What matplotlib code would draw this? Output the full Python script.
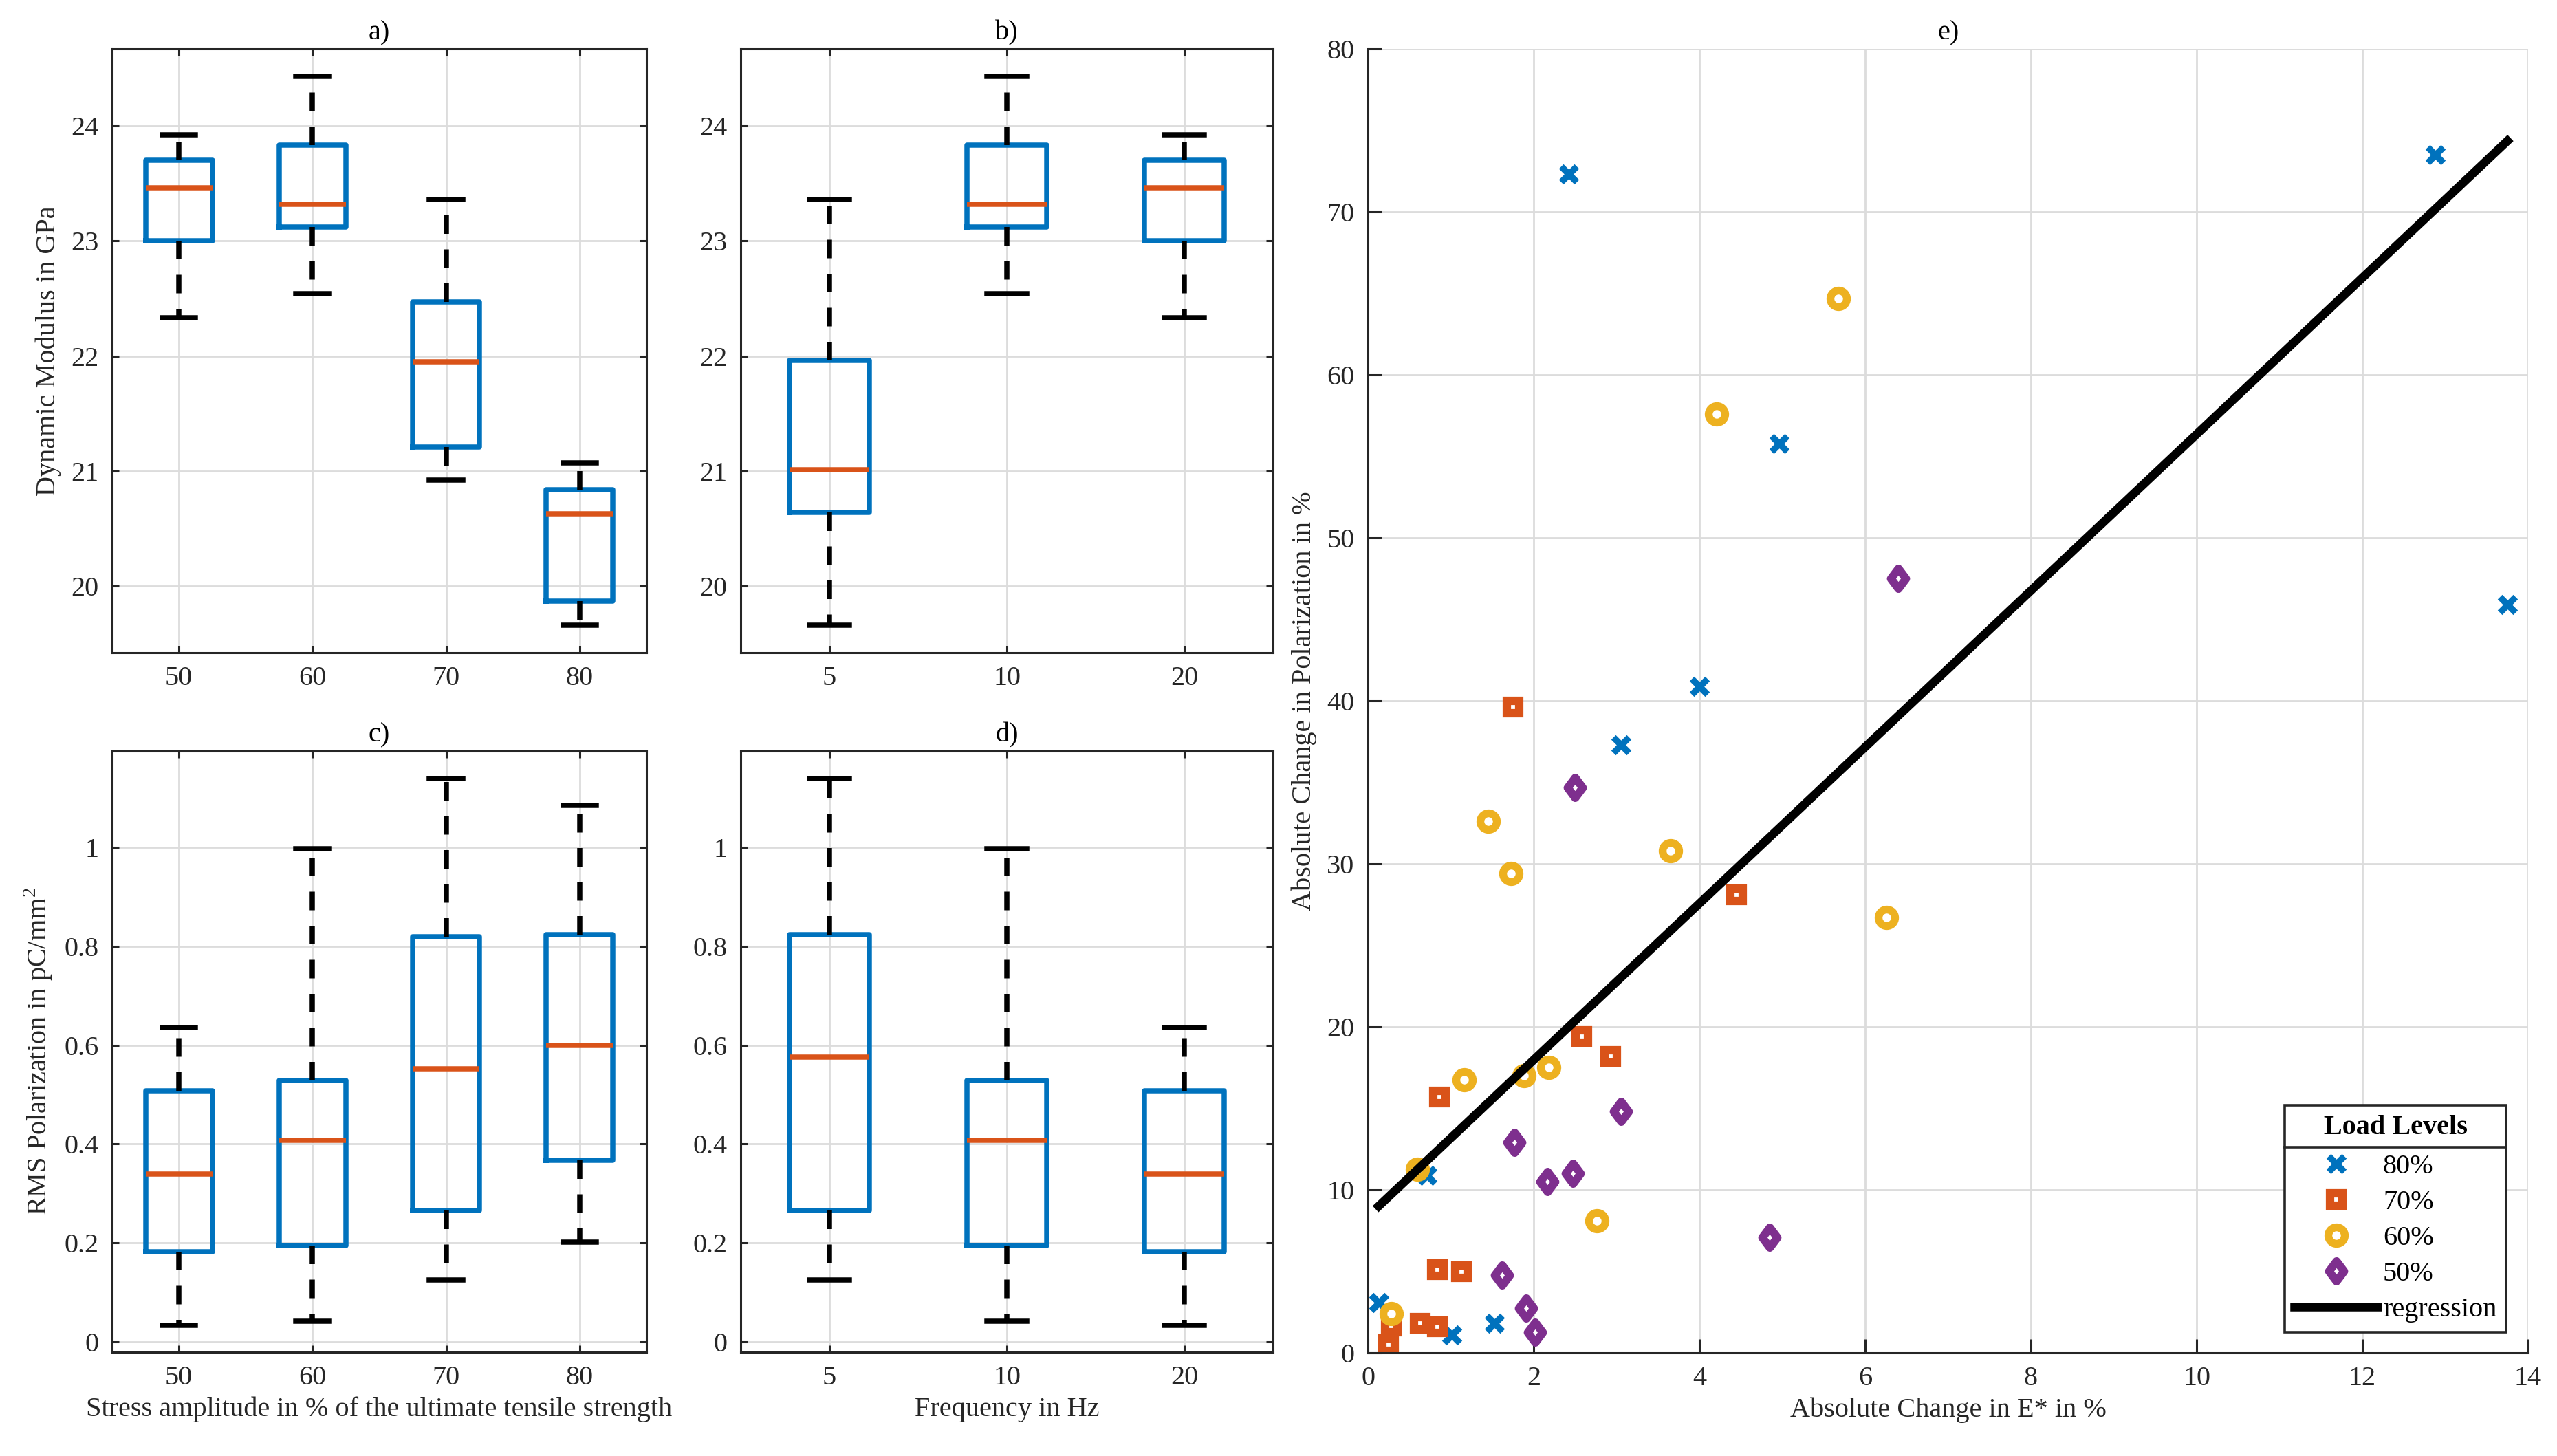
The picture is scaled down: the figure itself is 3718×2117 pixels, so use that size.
import matplotlib
matplotlib.use("Agg")
import matplotlib.pyplot as plt
from matplotlib.lines import Line2D
from matplotlib.markers import MarkerStyle
from matplotlib.path import Path

plt.rcParams["font.family"] = ["Liberation Serif", "DejaVu Serif"]
plt.rcParams["mathtext.fontset"] = "custom"
plt.rcParams["mathtext.rm"] = "Liberation Serif"

# --- box plot data (whisker low, q1, median, q3, whisker high) ---
stress_labels = ["50", "60", "70", "80"]
freq_labels = ["5", "10", "20"]

mod_stress_lo = [22.33, 22.54, 20.92, 19.66]
mod_stress_q1 = [23.00, 23.12, 21.21, 19.87]
mod_stress_med = [23.46, 23.32, 21.95, 20.63]
mod_stress_q3 = [23.70, 23.83, 22.47, 20.84]
mod_stress_hi = [23.92, 24.43, 23.36, 21.07]

mod_freq_lo = [19.66, 22.54, 22.33]
mod_freq_q1 = [20.64, 23.12, 23.00]
mod_freq_med = [21.01, 23.32, 23.46]
mod_freq_q3 = [21.96, 23.83, 23.70]
mod_freq_hi = [23.36, 24.43, 23.92]

pol_stress_lo = [0.033, 0.041, 0.125, 0.201]
pol_stress_q1 = [0.182, 0.194, 0.265, 0.367]
pol_stress_med = [0.340, 0.408, 0.552, 0.600]
pol_stress_q3 = [0.508, 0.528, 0.820, 0.824]
pol_stress_hi = [0.636, 0.997, 1.139, 1.085]

pol_freq_lo = [0.125, 0.041, 0.033]
pol_freq_q1 = [0.265, 0.194, 0.182]
pol_freq_med = [0.576, 0.408, 0.340]
pol_freq_q3 = [0.824, 0.528, 0.508]
pol_freq_hi = [1.139, 0.997, 0.636]

mod_ticks = [20, 21, 22, 23, 24]
pol_ticks = [0, 0.2, 0.4, 0.6, 0.8, 1.0]
pol_tick_labels = ["0", "0.2", "0.4", "0.6", "0.8", "1"]

# --- scatter data (absolute change in E*, absolute change in polarization) ---
x80 = [2.42, 12.88, 13.75, 4.96, 4.00, 3.05, 0.13, 1.01, 1.53, 0.71]
y80 = [72.3, 73.5, 45.9, 55.8, 40.9, 37.3, 3.1, 1.1, 1.8, 10.9]
x70 = [1.75, 4.45, 2.58, 2.93, 0.86, 0.84, 1.13, 0.63, 0.84, 0.285, 0.25]
y70 = [39.6, 28.1, 19.4, 18.2, 15.7, 5.1, 5.0, 1.8, 1.6, 1.65, 0.5]
x60 = [5.68, 4.21, 1.45, 1.73, 3.65, 6.26, 1.16, 1.88, 2.18, 0.60, 2.76, 0.28]
y60 = [64.7, 57.6, 32.6, 29.4, 30.8, 26.7, 16.75, 17.0, 17.5, 11.25, 8.1, 2.4]
x50 = [6.40, 2.50, 1.77, 3.05, 2.17, 2.47, 4.85, 1.62, 1.91, 2.02]
y50 = [47.5, 34.7, 12.9, 14.8, 10.5, 11.0, 7.1, 4.75, 2.75, 1.25]
reg_x = [0.13, 13.75]
reg_y = [9.0, 74.35]

BLUE = "#0072BD"
ORANGE = "#D95319"
YELLOW = "#EDB120"
PURPLE = "#7E2F8E"
AX_COL = "#262626"
GRID_COL = "#dcdcdc"
FS = 14.5

W, H = 3718, 2117


def rect(left, right, top, bottom):
    return [left / W, 1 - bottom / H, (right - left) / W, (bottom - top) / H]


def make_stats(lo, q1, med, q3, hi):
    return [dict(whislo=a, q1=b, med=c, q3=d, whishi=e)
            for a, b, c, d, e in zip(lo, q1, med, q3, hi)]


def box_panel(ax, stats, width, xlabels, ylim, yticks, yticklabels=None):
    lw = 2.7
    ax.bxp(stats, positions=range(1, len(stats) + 1), widths=width,
           capwidths=width / 2, showfliers=False,
           boxprops=dict(color=BLUE, linewidth=lw),
           medianprops=dict(color=ORANGE, linewidth=lw),
           whiskerprops=dict(color="black", linewidth=lw, linestyle=(0, (3.6, 3.0))),
           capprops=dict(color="black", linewidth=lw))
    ax.set_xlim(0.5, len(stats) + 0.5)
    ax.set_xticks(range(1, len(stats) + 1))
    ax.set_xticklabels(xlabels)
    ax.set_ylim(*ylim)
    ax.set_yticks(yticks)
    if yticklabels is not None:
        ax.set_yticklabels(yticklabels)
    ax.set_axisbelow(True)
    ax.grid(True, color=GRID_COL, linewidth=1.0)
    ax.tick_params(direction="in", top=True, right=True, length=3.6, width=1.1,
                   labelsize=FS, colors=AX_COL, pad=7)
    for sp in ax.spines.values():
        sp.set_color(AX_COL)
        sp.set_linewidth(1.1)


fig = plt.figure(figsize=(W / 200, H / 200), dpi=200)

ax_a = fig.add_axes(rect(163, 940, 71, 949))
ax_b = fig.add_axes(rect(1077, 1851, 71, 949))
ax_c = fig.add_axes(rect(163, 940, 1092, 1966))
ax_d = fig.add_axes(rect(1077, 1851, 1092, 1966))
ax_e = fig.add_axes(rect(1989, 3676, 71, 1967))

mod_lim = (19.42, 24.67)
pol_lim = (-0.021, 1.195)

box_panel(ax_a, make_stats(mod_stress_lo, mod_stress_q1, mod_stress_med, mod_stress_q3, mod_stress_hi),
          0.5, stress_labels, mod_lim, mod_ticks)
box_panel(ax_b, make_stats(mod_freq_lo, mod_freq_q1, mod_freq_med, mod_freq_q3, mod_freq_hi),
          0.45, freq_labels, mod_lim, mod_ticks)
box_panel(ax_c, make_stats(pol_stress_lo, pol_stress_q1, pol_stress_med, pol_stress_q3, pol_stress_hi),
          0.5, stress_labels, pol_lim, pol_ticks, pol_tick_labels)
box_panel(ax_d, make_stats(pol_freq_lo, pol_freq_q1, pol_freq_med, pol_freq_q3, pol_freq_hi),
          0.45, freq_labels, pol_lim, pol_ticks, pol_tick_labels)

for ax, t in zip([ax_a, ax_b, ax_c, ax_d, ax_e], ["a)", "b)", "c)", "d)", "e)"]):
    ax.set_title(t, fontsize=FS, pad=5, color="black")

ax_a.set_ylabel("Dynamic Modulus in GPa", fontsize=FS, color=AX_COL, labelpad=5)
ax_c.set_ylabel("RMS Polarization in pC/mm$^{\\mathrm{2}}$", fontsize=FS, color=AX_COL, labelpad=5)
ax_c.set_xlabel("Stress amplitude in % of the ultimate tensile strength", fontsize=FS,
                color=AX_COL, labelpad=3)
ax_d.set_xlabel("Frequency in Hz", fontsize=FS, color=AX_COL, labelpad=3)

# --- scatter panel ---
diamond = MarkerStyle(Path([(0, 1), (0.75, 0), (0, -1), (-0.75, 0), (0, 1)], closed=True),
                      joinstyle="miter")
cross = MarkerStyle("x", capstyle="projecting")

h80, = ax_e.plot(x80, y80, linestyle="none", marker=cross, ms=5.5, mew=3.4, mec=BLUE)
h70, = ax_e.plot(x70, y70, linestyle="none", marker="s", ms=6.2, mew=4.4, mec=ORANGE, mfc="white")
h60, = ax_e.plot(x60, y60, linestyle="none", marker="o", ms=8.6, mew=4.1, mec=YELLOW, mfc="white")
h50, = ax_e.plot(x50, y50, linestyle="none", marker=diamond, ms=10.5, mew=4.3, mec=PURPLE, mfc="white")
hreg, = ax_e.plot(reg_x, reg_y, color="black", linewidth=4.5)

ax_e.set_xlim(0, 14)
ax_e.set_ylim(0, 80)
ax_e.set_xticks(range(0, 15, 2))
ax_e.set_yticks(range(0, 81, 10))
ax_e.set_axisbelow(True)
ax_e.grid(True, color=GRID_COL, linewidth=1.0)
ax_e.spines["top"].set_visible(False)
ax_e.spines["right"].set_visible(False)
for side in ["left", "bottom"]:
    ax_e.spines[side].set_color(AX_COL)
    ax_e.spines[side].set_linewidth(1.1)
ax_e.tick_params(direction="in", length=7.2, width=1.1, labelsize=FS, colors=AX_COL, pad=7)
ax_e.set_xlabel("Absolute Change in E* in %", fontsize=FS, color=AX_COL, labelpad=3)
ax_e.set_ylabel("Absolute Change in Polarization in %", fontsize=FS, color=AX_COL, labelpad=5)

leg = ax_e.legend([h80, h70, h60, h50, hreg], ["80%", "70%", "60%", "50%", "regression"],
                  title="Load Levels", loc="lower right", bbox_to_anchor=(0.9813, 0.0157),
                  borderaxespad=0, fontsize=FS,
                  title_fontproperties={"weight": "bold", "size": FS},
                  handlelength=3.0, handletextpad=0.2, labelspacing=0.37, borderpad=0.35,
                  fancybox=False, edgecolor=AX_COL, framealpha=1)
leg.get_frame().set_linewidth(1.3)
leg._legend_box.sep = 7.0

# separator line under the legend title
fig.canvas.draw()
renderer = fig.canvas.get_renderer()
frame_bb = leg.get_frame().get_window_extent(renderer)
title_bb = leg.get_title().get_window_extent(renderer)
hbox_bb = leg._legend_handle_box.get_window_extent(renderer)
y_sep = (title_bb.y0 + hbox_bb.y1) / 2
pts = fig.transFigure.inverted().transform([(frame_bb.x0, y_sep), (frame_bb.x1, y_sep)])
fig.add_artist(Line2D(pts[:, 0], pts[:, 1], transform=fig.transFigure,
                      color=AX_COL, linewidth=1.3, zorder=10))

fig.savefig("out.png", dpi=200)
